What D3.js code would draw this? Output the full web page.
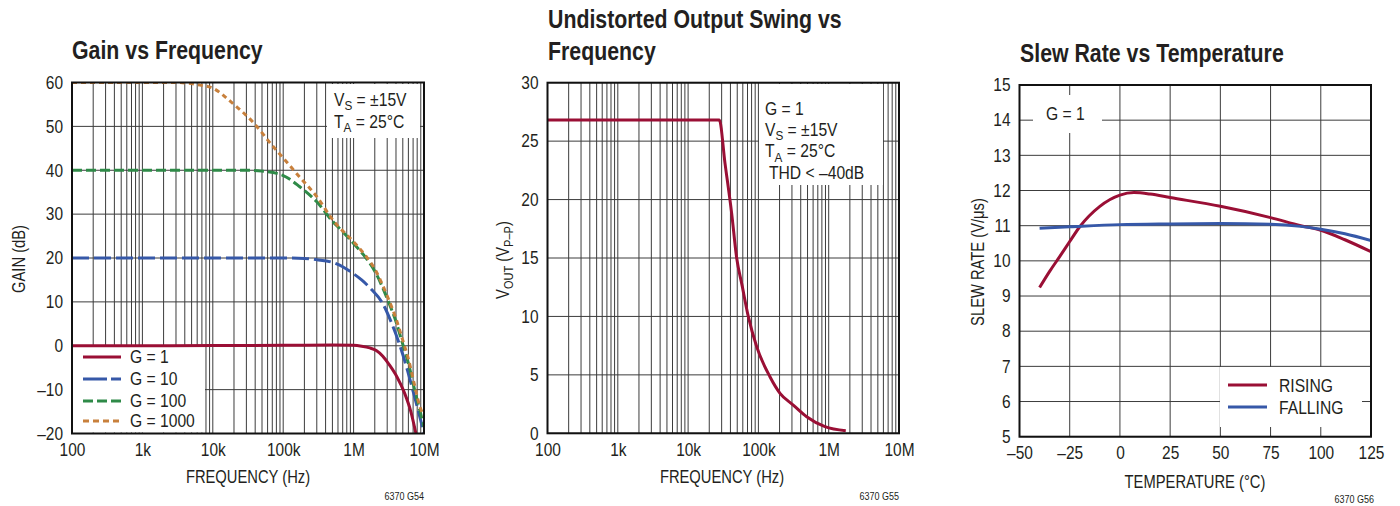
<!DOCTYPE html>
<html><head><meta charset="utf-8">
<script src="https://cdn.jsdelivr.net/npm/d3@7"></script>
<style>body{margin:0;background:#fff}svg{display:block}</style>
</head><body><svg id="c" width="1400" height="506"></svg>
<script>
// ---------- DATA ----------
const freqTicks = [100, 1e3, 1e4, 1e5, 1e6, 1e7];
const freqLabels = ["100", "1k", "10k", "100k", "1M", "10M"];

const gainTicks = [-20, -10, 0, 10, 20, 30, 40, 50, 60];
const gainLabels = ["–20", "–10", "0", "10", "20", "30", "40", "50", "60"];

const g1Freq = [100, 1e3, 1e4, 1e5, 5e5, 1e6, 1.3e6, 1.7e6, 2.1e6, 2.6e6, 3.2e6, 4.1e6, 5.3e6, 6.5e6, 7.8e6];
const g1Gain = [0, 0, 0.05, 0.1, 0.15, 0.1, -0.1, -0.5, -1.1, -2.4, -4.3, -7, -10.8, -15, -20.5];

const g10Freq = [100, 1e3, 1e4, 1e5, 2e5, 3e5, 5e5, 7e5, 9e5, 1.3e6, 1.8e6, 2.6e6, 3.5e6, 4.6e6, 5.8e6, 6.9e6, 8.5e6, 1e7];
const g10Gain = [20, 20, 20, 20, 19.9, 19.6, 19, 18, 16.9, 15, 12.8, 9.6, 5, -0.2, -5.5, -10, -15.5, -20];

const g100Freq = [100, 1e3, 1e4, 3e4, 5e4, 1e5, 1.7e5, 3e5, 5e5, 7e5, 1e6, 1.5e6, 2e6, 3.1e6, 4e6, 5e6, 6e6, 7.3e6, 8.5e6, 1e7];
const g100Gain = [40, 40, 40, 40, 39.8, 38.8, 36.3, 32.8, 28.4, 26, 23.3, 20, 17, 10.2, 5.5, 0.3, -4, -9.8, -14, -18.5];

const g1000Freq = [100, 1e3, 3e3, 6.6e3, 1e4, 1.9e4, 3.7e4, 7.2e4, 1e5, 1.7e5, 3e5, 5.1e5, 1e6, 1.5e6, 2e6, 3.1e6, 4e6, 5e6, 6e6, 7.3e6, 8.8e6, 1e7];
const g1000Gain = [60, 60, 60, 59.4, 58.7, 55.3, 51, 45.4, 42.8, 38.5, 34, 28.6, 23.7, 20.4, 17.5, 10.8, 6.2, 1.2, -3, -8.8, -14, -16];

const swingTicks = [0, 5, 10, 15, 20, 25, 30];
const swingLabels = ["0", "5", "10", "15", "20", "25", "30"];
const swingFreq = [100, 1e3, 1e4, 2.78e4, 3.35e4, 4.17e4, 4.91e4, 5.84e4, 7.18e4, 9.46e4, 1.46e5, 2.03e5, 3.13e5, 4.86e5, 8.85e5, 1.75e6];
const swingVout = [26.8, 26.8, 26.8, 26.8, 23.1, 18.8, 15, 12.7, 10, 7.4, 4.84, 3.42, 2.42, 1.42, 0.57, 0.22];

const tempTicks = [-50, -25, 0, 25, 50, 75, 100, 125];
const tempLabels = ["–50", "–25", "0", "25", "50", "75", "100", "125"];
const slewTicks = [5, 6, 7, 8, 9, 10, 11, 12, 13, 14, 15];
const slewLabels = ["5", "6", "7", "8", "9", "10", "11", "12", "13", "14", "15"];
const risingTemp = [-40, -35, -30, -25, -20, -10, 0, 7, 15, 25, 50, 75, 90, 100, 112, 125];
const risingSlew = [9.24, 9.7, 10.12, 10.55, 10.97, 11.55, 11.87, 11.94, 11.9, 11.8, 11.55, 11.23, 11.0, 10.87, 10.6, 10.26];
const fallingTemp = [-40, -25, 0, 25, 50, 75, 90, 100, 112, 125];
const fallingSlew = [10.93, 10.97, 11.03, 11.05, 11.06, 11.04, 10.98, 10.9, 10.77, 10.58];

// ---------- STYLE ----------
const FONT = "'Liberation Sans Narrow','Arial Narrow','Liberation Sans',Arial,sans-serif";
const TXT = "#231f20";
const GRID = "#3c3c3c";
const RED = "#9a0f35", BLUE = "#3658a8", GREEN = "#2f8a48", ORANGE = "#c8803c";
const SX_TITLE = 0.82, SX_AXIS = 0.82, SX_TEXT = 0.87, SX_TICK = 0.86;

const svg = d3.select("#c");
svg.append("rect").attr("width", 1400).attr("height", 506).attr("fill", "#fff");

function addText(g, x, y, parts, opts = {}) {
  const sx = opts.sx || SX_TEXT;
  const t = g.append("text").attr("x", x).attr("y", y)
    .attr("font-family", FONT).attr("font-size", opts.size || 18)
    .attr("fill", TXT).attr("text-anchor", opts.anchor || "start")
    .attr("transform", `translate(${x},${y}) rotate(${opts.rotate ? -90 : 0}) scale(${sx},1) translate(${-x},${-y})`);
  if (opts.weight) t.attr("font-weight", opts.weight);
  let shift = 0;
  parts.forEach(p => {
    if (typeof p === "string") {
      const s = t.append("tspan").text(p);
      if (shift) { s.attr("dy", -shift); shift = 0; }
    } else {
      const d = p.dy || 4.5;
      t.append("tspan").text(p.sub).attr("dy", d - shift).attr("font-size", p.size || 13.5);
      shift = d;
    }
  });
  return t;
}

function panel(cfg) {
  const g = svg.append("g");
  const x = cfg.xScale, y = cfg.yScale;
  const [X0, X1] = x.range(), [Y1, Y0] = y.range();
  const id = "clip" + cfg.id;
  svg.append("clipPath").attr("id", id).append("rect")
    .attr("x", X0).attr("y", Y0).attr("width", X1 - X0).attr("height", Y1 - Y0);

  // grid
  g.append("g").selectAll("line").data(cfg.vGrid).join("line")
    .attr("x1", d => x(d)).attr("x2", d => x(d)).attr("y1", Y0).attr("y2", Y1)
    .attr("stroke", GRID).attr("stroke-width", 1);
  g.append("g").selectAll("line").data(cfg.yTicks).join("line")
    .attr("x1", X0).attr("x2", X1).attr("y1", d => y(d)).attr("y2", d => y(d))
    .attr("stroke", GRID).attr("stroke-width", 1);

  // white boxes
  (cfg.boxes || []).forEach(b => g.append("rect").attr("x", b[0]).attr("y", b[1])
    .attr("width", b[2] - b[0]).attr("height", b[3] - b[1]).attr("fill", "#fff"));

  // axes (labels via d3 axis)
  const padX = 10, padY = 9;
  const ax = d3.axisBottom(x).tickValues(cfg.xTicks).tickFormat((d, i) => cfg.xLabels[i]).tickSize(0).tickPadding(padX);
  const gx = g.append("g").attr("transform", `translate(0,${Y1})`).call(ax);
  const ay = d3.axisLeft(y).tickValues(cfg.yTicks).tickFormat((d, i) => cfg.yLabels[i]).tickSize(0).tickPadding(padY);
  const gy = g.append("g").attr("transform", `translate(${X0},0)`).call(ay);
  [gx, gy].forEach(a => {
    a.select(".domain").remove();
    a.selectAll("text").attr("font-family", FONT).attr("font-size", 18).attr("fill", TXT);
  });
  gx.selectAll("text").attr("transform", `scale(${SX_TICK},1)`);
  gy.selectAll("text").attr("transform", `translate(${-padY},0) scale(${SX_TICK},1) translate(${padY},0)`);

  // series
  const cg = g.append("g").attr("clip-path", `url(#${id})`);
  cfg.series.forEach(s => {
    const pts = s.x.map((v, i) => [v, s.y[i]]);
    cg.append("path").datum(pts)
      .attr("d", d3.line().x(d => x(d[0])).y(d => y(d[1])).curve(d3.curveMonotoneX))
      .attr("fill", "none").attr("stroke", s.color).attr("stroke-width", 3)
      .attr("stroke-dasharray", s.dash || null);
  });

  // frame
  g.append("rect").attr("x", X0).attr("y", Y0).attr("width", X1 - X0).attr("height", Y1 - Y0)
    .attr("fill", "none").attr("stroke", "#111").attr("stroke-width", 2);
  return g;
}

function logGrid() {
  const v = [];
  for (let k = 2; k <= 6; k++) for (let d = 1; d <= 9; d++) v.push(d * Math.pow(10, k));
  v.push(1e7);
  return v;
}

// ---------- PANEL 1 ----------
const x1 = d3.scaleLog().domain([100, 1e7]).range([72, 424]);
const y1 = d3.scaleLinear().domain([-20, 60]).range([433.5, 82.5]);
const p1 = panel({
  id: 1, xScale: x1, yScale: y1, vGrid: logGrid(),
  xTicks: freqTicks, xLabels: freqLabels, yTicks: gainTicks, yLabels: gainLabels,
  boxes: [[73, 347, 205, 432.5], [327, 84, 420, 138]],
  series: [
    { x: g1Freq, y: g1Gain, color: RED },
    { x: g10Freq, y: g10Gain, color: BLUE, dash: "17,5" },
    { x: g100Freq, y: g100Gain, color: GREEN, dash: "10,4" },
    { x: g1000Freq, y: g1000Gain, color: ORANGE, dash: "5,4" }
  ]
});
addText(p1, 72, 59, ["Gain vs Frequency"], { size: 26, weight: "bold", sx: SX_TITLE });
addText(p1, 248, 483, ["FREQUENCY (Hz)"], { anchor: "middle", sx: SX_AXIS });
addText(p1, 25, 259, ["GAIN (dB)"], { anchor: "middle", rotate: true, sx: SX_AXIS });
addText(p1, 424, 500, ["6370 G54"], { size: 10, anchor: "end", sx: 0.9 });
addText(p1, 334, 106, ["V", { sub: "S" }, " = ±15V"]);
addText(p1, 334, 128, ["T", { sub: "A" }, " = 25°C"]);
const leg1 = [["G = 1", RED, null], ["G = 10", BLUE, "24,4"], ["G = 100", GREEN, "10,4"], ["G = 1000", ORANGE, "6,4"]];
const legY1 = [357, 379, 401, 421];
leg1.forEach((l, i) => {
  p1.append("line").attr("x1", 83).attr("x2", 121).attr("y1", legY1[i]).attr("y2", legY1[i])
    .attr("stroke", l[1]).attr("stroke-width", 3).attr("stroke-dasharray", l[2]);
  addText(p1, 130, legY1[i] + 6.5, [l[0]]);
});

// ---------- PANEL 2 ----------
const x2 = d3.scaleLog().domain([100, 1e7]).range([547.5, 899]);
const y2 = d3.scaleLinear().domain([0, 30]).range([433.3, 82.7]);
const p2 = panel({
  id: 2, xScale: x2, yScale: y2, vGrid: logGrid(),
  xTicks: freqTicks, xLabels: freqLabels, yTicks: swingTicks, yLabels: swingLabels,
  boxes: [[759, 84, 883, 185]],
  series: [{ x: swingFreq, y: swingVout, color: RED }]
});
addText(p2, 548, 28, ["Undistorted Output Swing vs"], { size: 26, weight: "bold", sx: SX_TITLE });
addText(p2, 548, 60, ["Frequency"], { size: 26, weight: "bold", sx: SX_TITLE });
addText(p2, 722, 483, ["FREQUENCY (Hz)"], { anchor: "middle", sx: SX_AXIS });
addText(p2, 509, 260, ["V", { sub: "OUT" }, " (V", { sub: "P–P" }, ")"], { anchor: "middle", rotate: true, sx: SX_AXIS });
addText(p2, 899, 500, ["6370 G55"], { size: 10, anchor: "end", sx: 0.9 });
addText(p2, 765, 115, ["G = 1"]);
addText(p2, 765, 136, ["V", { sub: "S" }, " = ±15V"]);
addText(p2, 765, 157.5, ["T", { sub: "A" }, " = 25°C"]);
addText(p2, 769, 179.5, ["THD < –40dB"]);

// ---------- PANEL 3 ----------
const x3 = d3.scaleLinear().domain([-50, 125]).range([1019.5, 1371]);
const y3 = d3.scaleLinear().domain([5, 15]).range([436.7, 85]);
const p3 = panel({
  id: 3, xScale: x3, yScale: y3, vGrid: tempTicks,
  xTicks: tempTicks, xLabels: tempLabels, yTicks: slewTicks, yLabels: slewLabels,
  boxes: [[1033, 95, 1102, 133], [1220, 367, 1362, 427]],
  series: [
    { x: risingTemp, y: risingSlew, color: RED },
    { x: fallingTemp, y: fallingSlew, color: BLUE }
  ]
});
addText(p3, 1020, 62, ["Slew Rate vs Temperature"], { size: 26, weight: "bold", sx: SX_TITLE });
addText(p3, 1195, 488, ["TEMPERATURE (°C)"], { anchor: "middle", sx: SX_AXIS });
addText(p3, 984, 262, ["SLEW RATE (V/μs)"], { anchor: "middle", rotate: true, sx: SX_AXIS });
addText(p3, 1374, 503, ["6370 G56"], { size: 10, anchor: "end", sx: 0.9 });
addText(p3, 1046, 120, ["G = 1"]);
[["RISING", RED, 385], ["FALLING", BLUE, 407]].forEach(l => {
  p3.append("line").attr("x1", 1228).attr("x2", 1267).attr("y1", l[2]).attr("y2", l[2])
    .attr("stroke", l[1]).attr("stroke-width", 3);
  addText(p3, 1279, l[2] + 7.5, [l[0]]);
});
</script>
</body></html>
